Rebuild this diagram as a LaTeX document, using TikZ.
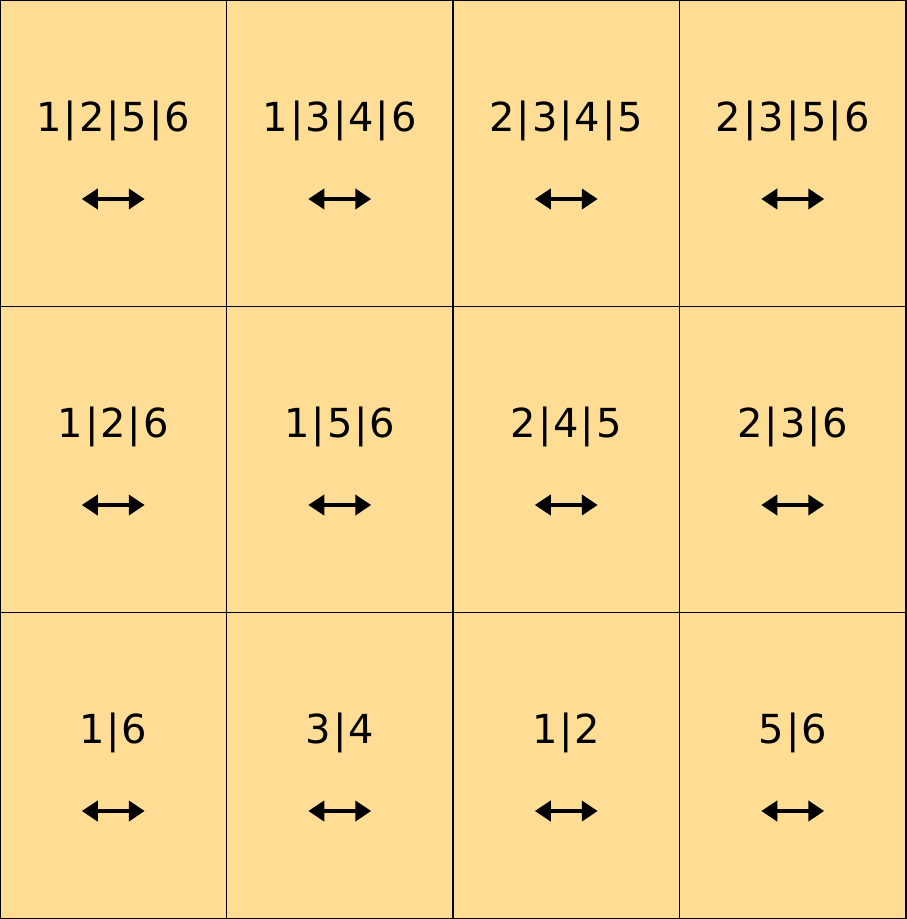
\documentclass[tikz,border=0pt]{standalone}
\usepackage{fontspec}
\setmainfont[LetterSpace=5]{DejaVu Sans}
\usepackage{tikz}
\usetikzlibrary{arrows.meta,positioning}
\definecolor{cellfill}{HTML}{FFDD94}

\begin{document}
\begin{tikzpicture}[
    x=0.5pt, y=0.5pt,
    cell/.style={rectangle, draw=black, line width=0.65pt, fill=cellfill, minimum width=113.25pt, minimum height=153.17pt, inner sep=0pt, outer sep=0pt},
    perm/.style={anchor=base, inner sep=0pt, font=\fontsize{20}{24}\selectfont},
    swap/.style={{Triangle[length=8pt,width=10pt]}-{Triangle[length=8pt,width=10pt]}, line width=2pt}
]
    \useasboundingbox (0,0) rectangle (906,-919);

    % Cells
    \node[cell] (c11) at (113.25,-153.17) {};
    \node[cell] (c12) at (339.75,-153.17) {};
    \node[cell] (c13) at (566.25,-153.17) {};
    \node[cell] (c14) at (792.75,-153.17) {};
    \node[cell] (c21) at (113.25,-459.5) {};
    \node[cell] (c22) at (339.75,-459.5) {};
    \node[cell] (c23) at (566.25,-459.5) {};
    \node[cell] (c24) at (792.75,-459.5) {};
    \node[cell] (c31) at (113.25,-765.83) {};
    \node[cell] (c32) at (339.75,-765.83) {};
    \node[cell] (c33) at (566.25,-765.83) {};
    \node[cell] (c34) at (792.75,-765.83) {};

    % Labels
    \node[perm] (p11) at (113.25,-131.7) {1|2|5|6};
    \node[perm] (p12) at (339.75,-131.7) {1|3|4|6};
    \node[perm] (p13) at (566.25,-131.7) {2|3|4|5};
    \node[perm] (p14) at (792.75,-131.7) {2|3|5|6};
    \node[perm] (p21) at (113.25,-437.7) {1|2|6};
    \node[perm] (p22) at (339.75,-437.7) {1|5|6};
    \node[perm] (p23) at (566.25,-437.7) {2|4|5};
    \node[perm] (p24) at (792.75,-437.7) {2|3|6};
    \node[perm] (p31) at (113.25,-743.7) {1|6};
    \node[perm] (p32) at (339.75,-743.7) {3|4};
    \node[perm] (p33) at (566.25,-743.7) {1|2};
    \node[perm] (p34) at (792.75,-743.7) {5|6};

    % Arrows
    \foreach \r/\y in {1/-199, 2/-505, 3/-811}
      \foreach \c/\x in {1/113.25, 2/339.75, 3/566.25, 4/792.75} {
        \coordinate (l\r\c) at (\x-31.5,\y);
        \coordinate (r\r\c) at (\x+31.5,\y);
        \draw[swap] (l\r\c) -- (r\r\c);
      }
\end{tikzpicture}
\end{document}
